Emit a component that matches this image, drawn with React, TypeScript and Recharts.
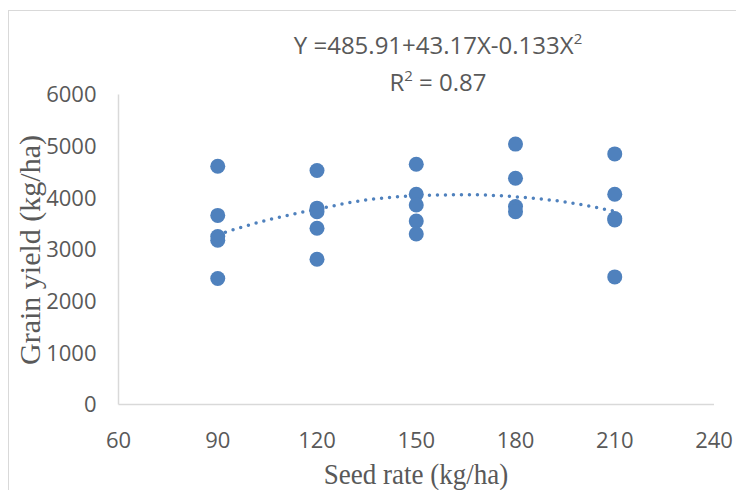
import React from 'react';
import { ComposedChart, Scatter, Line, XAxis, YAxis } from 'recharts';

// observed grain yield per seed rate (kg/ha)
const rate90 = [4610, 3660, 3250, 3180, 2440];
const rate120 = [4530, 3800, 3730, 3410, 2810];
const rate150 = [4650, 4070, 3860, 3550, 3300];
const rate180 = [5040, 4380, 3830, 3730];
const rate210 = [4850, 4070, 3600, 3570, 2470];

const seedRates = [90, 120, 150, 180, 210];
const yieldsByRate = [rate90, rate120, rate150, rate180, rate210];

// fitted quadratic trend
const trendX = [90, 105, 120, 135, 150, 165, 180, 195, 210];
const trendY = [3290, 3570, 3780, 3960, 4040, 4060, 4020, 3920, 3740];

const xTicks = [60, 90, 120, 150, 180, 210, 240];
const yTicks = [0, 1000, 2000, 3000, 4000, 5000, 6000];

const points = seedRates.flatMap((rate, i) => yieldsByRate[i].map((v) => ({ x: rate, y: v })));
const trend = trendX.map((x, i) => ({ x, y: trendY[i] }));

const BLUE = '#4F81BD';
const GREY = '#595959';
const tickStyle = { fill: GREY, fontSize: 22, fontFamily: '"Open Sans", sans-serif' };
const serif = '"Liberation Serif", "Times New Roman", serif';

const Dot = (props: any) => <circle cx={props.cx} cy={props.cy} r={7.5} fill={BLUE} />;

export default function App() {
  return (
    <div style={{ position: 'relative', width: 736, height: 482 }}>
      <div
        style={{
          position: 'absolute', left: 0, top: 2, width: 736, height: 480,
          borderLeft: '1px solid #D9D9D9', borderTop: '1px solid #D9D9D9', boxSizing: 'border-box',
        }}
      />
      <ComposedChart
        width={736}
        height={482}
        margin={{ top: 86.5, right: 30, left: 0, bottom: 45.5 }}
        style={{ position: 'absolute', left: 0, top: 0 }}
      >
        <XAxis
          dataKey="x"
          type="number"
          domain={[60, 240]}
          ticks={xTicks}
          height={40}
          axisLine={{ stroke: '#D9D9D9', strokeWidth: 1.5 }}
          tickLine={false}
          tickSize={0}
          tickMargin={28}
          tick={tickStyle}
          allowDataOverflow
        />
        <YAxis
          dataKey="y"
          type="number"
          domain={[0, 6000]}
          ticks={yTicks}
          width={110.5}
          axisLine={{ stroke: '#D9D9D9', strokeWidth: 1.5 }}
          tickLine={false}
          tickSize={0}
          tickMargin={22}
          tick={tickStyle}
        />
        <Line
          data={trend}
          dataKey="y"
          type="monotone"
          stroke={BLUE}
          strokeWidth={3.5}
          strokeDasharray="0 8"
          strokeLinecap="round"
          dot={false}
          activeDot={false}
          isAnimationActive={false}
        />
        <Scatter data={points} dataKey="y" shape={Dot} isAnimationActive={false} />
      </ComposedChart>

      <div
        style={{
          position: 'absolute', left: 230, top: 20, width: 400, textAlign: 'center',
          fontFamily: '"Open Sans", sans-serif', fontSize: 24, lineHeight: '34px', color: GREY,
          whiteSpace: 'nowrap',
        }}
      >
        <div>
          Y =485.91+43.17X-0.133X
          <span style={{ fontSize: 15, position: 'relative', top: -10 }}>2</span>
        </div>
        <div>
          R<span style={{ fontSize: 15, position: 'relative', top: -10 }}>2</span> = 0.87
        </div>
      </div>

      <div
        style={{
          position: 'absolute', left: 22 - 160, top: 242 - 17, width: 320, height: 34,
          lineHeight: '34px', textAlign: 'center', transform: 'rotate(-90deg)',
          fontFamily: serif, fontSize: 30, color: GREY, whiteSpace: 'nowrap',
        }}
      >
        Grain yield (kg/ha)
      </div>

      <div
        style={{
          position: 'absolute', left: 408 - 160, top: 449, width: 320, height: 34,
          lineHeight: '34px', textAlign: 'center', transform: 'scaleX(0.9)',
          fontFamily: serif, fontSize: 30, color: GREY, whiteSpace: 'nowrap',
        }}
      >
        Seed rate (kg/ha)
      </div>
    </div>
  );
}
